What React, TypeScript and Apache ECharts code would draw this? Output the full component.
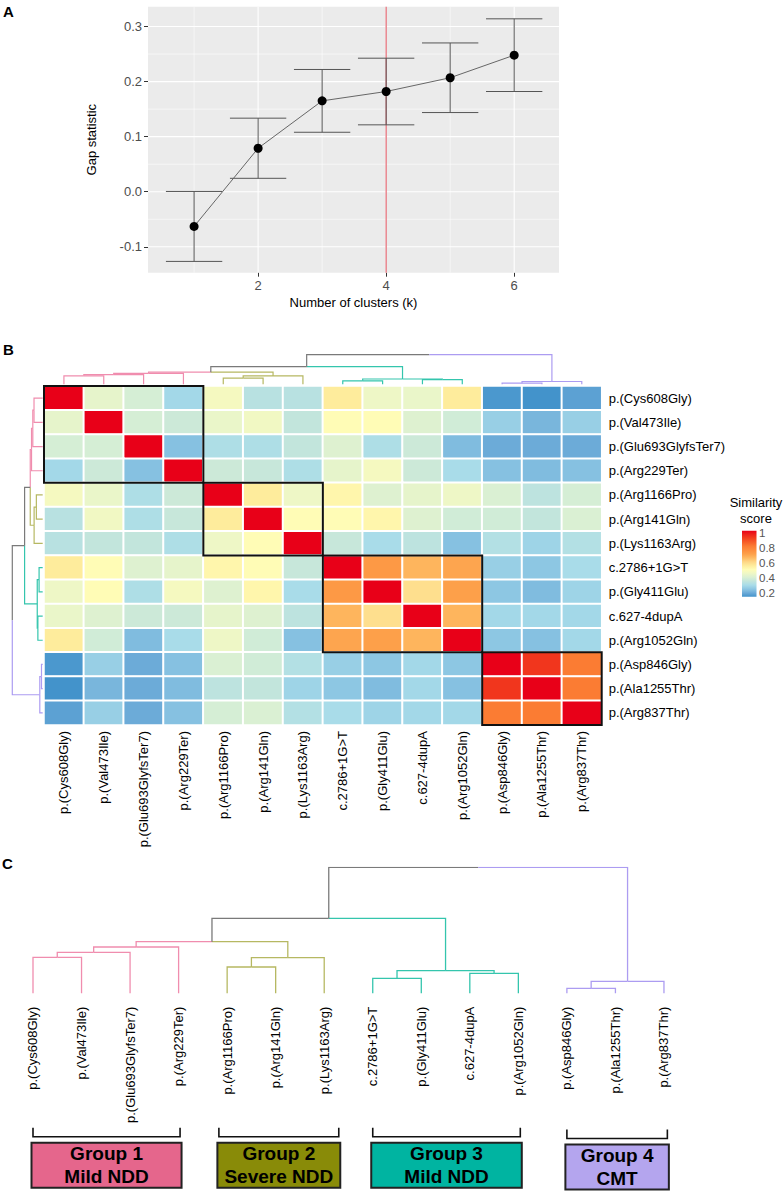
import React, { useEffect, useRef } from "react";
import * as echarts from "echarts";

// ---------- Panel A data ----------
const clusterK = [1, 2, 3, 4, 5, 6];
const gapValues = [-0.063, 0.079, 0.165, 0.182, 0.207, 0.248];
const gapSE = [0.0635, 0.0546, 0.057, 0.0605, 0.0632, 0.066];
const optimalK = 4;
const gapXTicks = [2, 4, 6];
const gapXMinor = [1, 3, 5];
const gapYTicks = [-0.1, 0, 0.1, 0.2, 0.3];
const gapYMinor = [-0.05, 0.05, 0.15, 0.25];

// ---------- Panel B / C data ----------
const variants = [
  "p.(Cys608Gly)", "p.(Val473Ile)", "p.(Glu693GlyfsTer7)", "p.(Arg229Ter)",
  "p.(Arg1166Pro)", "p.(Arg141Gln)", "p.(Lys1163Arg)",
  "c.2786+1G>T", "p.(Gly411Glu)", "c.627-4dupA", "p.(Arg1052Gln)",
  "p.(Asp846Gly)", "p.(Ala1255Thr)", "p.(Arg837Thr)",
];

const similarity = [
  [1, 0.43, 0.39, 0.29, 0.47, 0.33, 0.33, 0.55, 0.45, 0.44, 0.55, 0.16, 0.15, 0.18],
  [0.43, 1, 0.39, 0.37, 0.44, 0.46, 0.35, 0.50, 0.50, 0.41, 0.38, 0.27, 0.22, 0.27],
  [0.39, 0.39, 1, 0.24, 0.31, 0.31, 0.35, 0.41, 0.31, 0.37, 0.23, 0.20, 0.20, 0.20],
  [0.29, 0.37, 0.24, 1, 0.37, 0.36, 0.31, 0.43, 0.47, 0.37, 0.30, 0.24, 0.23, 0.24],
  [0.47, 0.44, 0.31, 0.37, 1, 0.55, 0.45, 0.52, 0.41, 0.43, 0.45, 0.40, 0.34, 0.39],
  [0.33, 0.46, 0.31, 0.36, 0.55, 1, 0.50, 0.50, 0.52, 0.41, 0.38, 0.38, 0.35, 0.40],
  [0.33, 0.35, 0.35, 0.31, 0.45, 0.50, 1, 0.36, 0.30, 0.34, 0.24, 0.32, 0.28, 0.32],
  [0.55, 0.50, 0.41, 0.43, 0.52, 0.50, 0.36, 1, 0.72, 0.66, 0.69, 0.27, 0.25, 0.30],
  [0.45, 0.50, 0.31, 0.47, 0.41, 0.52, 0.30, 0.72, 1, 0.58, 0.70, 0.25, 0.23, 0.28],
  [0.44, 0.41, 0.37, 0.37, 0.43, 0.41, 0.34, 0.66, 0.58, 1, 0.66, 0.29, 0.29, 0.29],
  [0.55, 0.38, 0.23, 0.30, 0.45, 0.38, 0.24, 0.69, 0.70, 0.66, 1, 0.25, 0.24, 0.29],
  [0.16, 0.27, 0.20, 0.24, 0.40, 0.38, 0.32, 0.27, 0.25, 0.29, 0.25, 1, 0.92, 0.80],
  [0.15, 0.22, 0.20, 0.23, 0.34, 0.35, 0.28, 0.25, 0.23, 0.29, 0.24, 0.92, 1, 0.80],
  [0.18, 0.27, 0.20, 0.24, 0.39, 0.40, 0.32, 0.30, 0.28, 0.29, 0.29, 0.80, 0.80, 1],
];

// hierarchical clustering (R hclust style: negative = leaf, positive = merge row)
const mergeLeft = [-1, 1, 2, -5, 4, 3, -8, -10, 7, 6, -12, 11, 10];
const mergeRight = [-2, -3, -4, -6, -7, 5, -9, -11, 8, 9, -13, -14, 12];
const mergeHeight = [36, 41, 46.3, 26.3, 35.6, 51.6, 15, 20, 22.6, 75, 5, 12, 126];
const leafGroup = [0, 0, 0, 0, 1, 1, 1, 2, 2, 2, 2, 3, 3, 3];

const groupTitles = ["Group 1", "Group 2", "Group 3", "Group 4"];
const groupSubtitles = ["Mild NDD", "Severe NDD", "Mild NDD", "CMT"];
const groupSpanStart = [0, 3.83, 7, 11];
const groupSpanEnd = [3.03, 6.3, 10.04, 13.07];

const legendTicks = [1, 0.8, 0.6, 0.4, 0.2];

// ---------- styling ----------
const FONT = "'Liberation Sans', Arial, Helvetica, sans-serif";
const branchColors = ["#F08DAE", "#B6B862", "#34C5AD", "#AC9CF1"];
const mixedColor = "#7A7A7A";
const boxFills = ["#E5668C", "#898B08", "#00B4A1", "#B4A5EE"];
const rampMin = 0.15;
const rampMax = 1.0;
const rampColors = [
  "#4393CB", "#6CABD8", "#8DC7E3", "#A9DCE9", "#C2E5DC", "#DAF0D3",
  "#EEF7C6", "#FFFCB6", "#FEEC9C", "#FED685", "#FEBA62", "#FDA04A",
  "#FD8E3E", "#FB7C33", "#F75F28", "#F3421E", "#EE241B", "#E80018",
];

type Seg = { coords: number[][]; group: number };

function buildDendrogram(): Seg[] {
  const nodes: { x: number; h: number; group: number }[] = [];
  const get = (ref: number) =>
    ref < 0 ? { x: -ref - 1, h: 0, group: leafGroup[-ref - 1] } : nodes[ref - 1];
  const segs: Seg[] = [];
  for (let m = 0; m < mergeHeight.length; m++) {
    const a = get(mergeLeft[m]);
    const b = get(mergeRight[m]);
    const h = mergeHeight[m];
    const x = (a.x + b.x) / 2;
    for (const c of [a, b]) {
      segs.push({ coords: [[x, h], [c.x, h], [c.x, c.h]], group: c.group });
    }
    nodes.push({ x, h, group: a.group === b.group ? a.group : -1 });
  }
  return segs;
}

function buildOption() {
  const segs = buildDendrogram();
  const colorOf = (g: number) => (g < 0 ? mixedColor : branchColors[g]);
  const n = variants.length;
  const maxH = Math.max(...mergeHeight);

  const heatData: number[][] = [];
  for (let r = 0; r < n; r++)
    for (let c = 0; c < n; c++) heatData.push([c, r, similarity[r][c]]);

  const groupBlocks = [0, 1, 2, 3].map((g) => {
    const idx = leafGroup.map((v, i) => (v === g ? i : -1)).filter((i) => i >= 0);
    const a = Math.min(...idx);
    const b = Math.max(...idx);
    return [a, a, b, b];
  });

  const gridItems: number[][] = [];
  gapXMinor.forEach((v) => gridItems.push([v, v, 0, 1]));
  gapYMinor.forEach((v) => gridItems.push([v, v, 1, 1]));
  gapXTicks.forEach((v) => gridItems.push([v, v, 0, 0]));
  gapYTicks.forEach((v) => gridItems.push([v, v, 1, 0]));
  gridItems.push([optimalK, optimalK, 0, 2]);

  // legend geometry
  const lgY = (v: number) => 593 - (v - 0.2) * 75.4;
  const barTop = lgY(rampMax) - 2;
  const barBottom = lgY(rampMin);
  const gradStops = rampColors.map((c, i) => ({
    offset: i / (rampColors.length - 1),
    color: c,
  }));

  const hidden = { show: false };

  return {
    animation: false,
    backgroundColor: "#fff",
    textStyle: { fontFamily: FONT },
    grid: [
      { left: 148, top: 6.7, width: 411, height: 266, show: true, backgroundColor: "#EBEBEB", borderWidth: 0 },
      { left: 44, top: 386, width: 557.7, height: 339 },
      { left: 44, top: 354.7, width: 557.7, height: 29.6 },
      { left: 12.3, top: 386, width: 30.4, height: 339 },
      { left: 8.73, top: 867.3, width: 679.5, height: 126 },
    ],
    xAxis: [
      {
        gridIndex: 0, type: "value", min: 0.28, max: 6.7, position: "bottom",
        name: "Number of clusters (k)", nameLocation: "middle", nameGap: 23,
        nameTextStyle: { fontSize: 13, color: "#000", fontFamily: FONT },
        axisLine: { show: false, onZero: false },
        axisTick: { show: true, length: 4, lineStyle: { color: "#333" }, customValues: gapXTicks },
        axisLabel: { customValues: gapXTicks, fontSize: 13, color: "#4D4D4D", margin: 6, fontFamily: FONT },
        splitLine: { show: false },
      },
      {
        gridIndex: 1, type: "category", data: variants, position: "bottom",
        axisLine: { show: false, onZero: false }, axisTick: { show: false }, splitLine: { show: false },
        axisLabel: { rotate: 90, interval: 0, margin: 6, fontSize: 13, color: "#000", fontFamily: FONT },
      },
      { gridIndex: 2, type: "value", min: -0.5, max: n - 0.5, ...hidden },
      { gridIndex: 3, type: "value", min: 0, max: maxH, inverse: true, ...hidden },
      { gridIndex: 4, type: "value", min: -0.5, max: n - 0.5, ...hidden },
      {
        gridIndex: 4, type: "category", data: variants, position: "bottom",
        axisLine: { show: false, onZero: false }, axisTick: { show: false }, splitLine: { show: false },
        axisLabel: { rotate: 90, interval: 0, margin: 13.4, fontSize: 13, color: "#000", fontFamily: FONT },
      },
    ],
    yAxis: [
      {
        gridIndex: 0, type: "value", min: -0.147, max: 0.336, position: "left",
        name: "Gap statistic", nameLocation: "middle", nameGap: 50, nameRotate: 90,
        nameTextStyle: { fontSize: 13, color: "#000", fontFamily: FONT },
        axisLine: { show: false, onZero: false },
        axisTick: { show: true, length: 4, lineStyle: { color: "#333" }, customValues: gapYTicks },
        axisLabel: {
          customValues: gapYTicks, fontSize: 13, color: "#4D4D4D", margin: 6, fontFamily: FONT,
          formatter: (v: number) => v.toFixed(1),
        },
        splitLine: { show: false },
      },
      {
        gridIndex: 1, type: "category", data: variants, inverse: true, position: "right",
        axisLine: { show: false, onZero: false }, axisTick: { show: false }, splitLine: { show: false },
        axisLabel: { interval: 0, margin: 7, fontSize: 13, color: "#000", fontFamily: FONT },
      },
      { gridIndex: 2, type: "value", min: 0, max: maxH, ...hidden },
      { gridIndex: 3, type: "value", min: -0.5, max: n - 0.5, inverse: true, ...hidden },
      { gridIndex: 4, type: "value", min: 0, max: maxH, ...hidden },
    ],
    visualMap: {
      type: "continuous", show: false, min: rampMin, max: rampMax,
      seriesIndex: 3, dimension: 2, inRange: { color: rampColors },
    },
    series: [
      // 0 gridlines + reference line for panel A
      {
        type: "custom", xAxisIndex: 0, yAxisIndex: 0, z: 1, silent: true,
        data: gridItems,
        renderItem: (params: any, api: any) => {
          const cs = params.coordSys;
          const v = api.value(0);
          const orient = api.value(2);
          const kind = api.value(3);
          const stroke = kind === 2 ? "#E35D69" : "#FFFFFF";
          const lw = kind === 0 ? 1.1 : kind === 1 ? 0.55 : 1.1;
          if (orient === 0) {
            const p = api.coord([v, 0])[0];
            return { type: "line", shape: { x1: p, y1: cs.y, x2: p, y2: cs.y + cs.height }, style: { stroke, lineWidth: lw } };
          }
          const p = api.coord([1, v])[1];
          return { type: "line", shape: { x1: cs.x, y1: p, x2: cs.x + cs.width, y2: p }, style: { stroke, lineWidth: lw } };
        },
      },
      // 1 error bars
      {
        type: "custom", xAxisIndex: 0, yAxisIndex: 0, z: 3, silent: true,
        data: clusterK.map((k, i) => [k, gapValues[i] - gapSE[i], gapValues[i] + gapSE[i]]),
        renderItem: (params: any, api: any) => {
          const k = api.value(0);
          const lo = api.coord([k, api.value(1)]);
          const hi = api.coord([k, api.value(2)]);
          const hw = api.size([0.88, 0])[0] / 2;
          const st = { stroke: "#555555", lineWidth: 1 };
          return {
            type: "group",
            children: [
              { type: "line", shape: { x1: lo[0], y1: lo[1], x2: hi[0], y2: hi[1] }, style: st },
              { type: "line", shape: { x1: lo[0] - hw, y1: lo[1], x2: lo[0] + hw, y2: lo[1] }, style: st },
              { type: "line", shape: { x1: hi[0] - hw, y1: hi[1], x2: hi[0] + hw, y2: hi[1] }, style: st },
            ],
          };
        },
      },
      // 2 gap line + points
      {
        type: "line", xAxisIndex: 0, yAxisIndex: 0, z: 5, silent: true,
        data: clusterK.map((k, i) => [k, gapValues[i]]),
        symbol: "circle", symbolSize: 9,
        itemStyle: { color: "#000" },
        lineStyle: { color: "#666", width: 1 },
      },
      // 3 heatmap
      {
        type: "heatmap", xAxisIndex: 1, yAxisIndex: 1, data: heatData, silent: true,
        itemStyle: { borderColor: "#FFFFFF", borderWidth: 2 },
        emphasis: { disabled: true },
      },
      // 4 cluster blocks
      {
        type: "custom", xAxisIndex: 1, yAxisIndex: 1, z: 10, silent: true, clip: false,
        data: groupBlocks,
        renderItem: (params: any, api: any) => {
          const a = api.coord([api.value(0), api.value(1)]);
          const b = api.coord([api.value(2), api.value(3)]);
          const s = api.size([1, 1]);
          const x0 = Math.min(a[0], b[0]) - s[0] / 2;
          const y0 = Math.min(a[1], b[1]) - s[1] / 2;
          return {
            type: "rect",
            shape: { x: x0, y: y0, width: Math.abs(b[0] - a[0]) + s[0], height: Math.abs(b[1] - a[1]) + s[1] },
            style: { fill: "none", stroke: "#111", lineWidth: 2 },
          };
        },
      },
      // 5 top dendrogram
      {
        type: "lines", coordinateSystem: "cartesian2d", xAxisIndex: 2, yAxisIndex: 2,
        polyline: true, silent: true,
        lineStyle: { width: 1.2, opacity: 1 },
        data: segs.map((s) => ({ coords: s.coords, lineStyle: { color: colorOf(s.group) } })),
      },
      // 6 left dendrogram
      {
        type: "lines", coordinateSystem: "cartesian2d", xAxisIndex: 3, yAxisIndex: 3,
        polyline: true, silent: true,
        lineStyle: { width: 1.2, opacity: 1 },
        data: segs.map((s) => ({
          coords: s.coords.map((p) => [p[1], p[0]]),
          lineStyle: { color: colorOf(s.group) },
        })),
      },
      // 7 panel C dendrogram
      {
        type: "lines", coordinateSystem: "cartesian2d", xAxisIndex: 4, yAxisIndex: 4,
        polyline: true, silent: true,
        lineStyle: { width: 1.3, opacity: 1 },
        data: segs.map((s) => ({ coords: s.coords, lineStyle: { color: colorOf(s.group) } })),
      },
      // 8 group brackets and boxes
      {
        type: "custom", xAxisIndex: 4, yAxisIndex: 4, clip: false, silent: true, z: 5,
        data: groupTitles.map((_, g) => [groupSpanStart[g], 0, groupSpanEnd[g], g]),
        renderItem: (params: any, api: any) => {
          const g = api.value(3);
          const p0 = api.coord([api.value(0), 0]);
          const p1 = api.coord([api.value(2), 0]);
          const base = p0[1] + (g === 3 ? 1.8 : 0);
          const bt = base + 134.4;
          const bb = base + 143.4;
          const boxTop = base + 149.4;
          const boxH = 45;
          const pad = 1.5;
          return {
            type: "group",
            children: [
              {
                type: "polyline",
                shape: { points: [[p0[0], bt], [p0[0], bb], [p1[0], bb], [p1[0], bt]] },
                style: { stroke: "#111", lineWidth: 1.6, fill: "none" },
              },
              {
                type: "rect",
                shape: { x: p0[0] - pad, y: boxTop, width: p1[0] - p0[0] + 2 * pad, height: boxH },
                style: { fill: boxFills[g], stroke: "#222", lineWidth: 2 },
              },
              {
                type: "text",
                x: (p0[0] + p1[0]) / 2,
                y: boxTop + boxH / 2,
                style: {
                  text: groupTitles[g] + "\n" + groupSubtitles[g],
                  fontFamily: FONT, fontSize: 19, fontWeight: "bold", fill: "#000",
                  align: "center", verticalAlign: "middle", lineHeight: 23,
                },
              },
            ],
          };
        },
      },
    ],
    graphic: [
      { type: "text", left: 3, top: 4, style: { text: "A", fontFamily: FONT, fontSize: 15, fontWeight: "bold", fill: "#000" } },
      { type: "text", left: 3, top: 342, style: { text: "B", fontFamily: FONT, fontSize: 15, fontWeight: "bold", fill: "#000" } },
      { type: "text", left: 2, top: 856, style: { text: "C", fontFamily: FONT, fontSize: 15, fontWeight: "bold", fill: "#000" } },
      {
        type: "text", x: 756, y: 510,
        style: {
          text: "Similarity\nscore", fontFamily: FONT, fontSize: 13, fill: "#000",
          align: "center", verticalAlign: "middle", lineHeight: 16,
        },
      },
      {
        type: "rect",
        shape: { x: 742, y: barTop, width: 14.5, height: barBottom - barTop },
        style: {
          fill: { type: "linear", x: 0, y: 1, x2: 0, y2: 0, colorStops: gradStops },
        },
      },
      ...legendTicks.map((v) => ({
        type: "text", x: 759, y: lgY(v),
        style: {
          text: String(v), fontFamily: FONT, fontSize: 11.5, fill: "#555",
          align: "left", verticalAlign: "middle",
        },
      })),
    ],
  };
}

export default function App() {
  const ref = useRef<HTMLDivElement>(null);
  useEffect(() => {
    if (!ref.current) return;
    const chart = echarts.init(ref.current, null, { renderer: "svg" });
    chart.setOption(buildOption() as any);
    return () => chart.dispose();
  }, []);
  return (
    <div
      ref={ref}
      style={{ position: "fixed", left: 0, top: 0, width: 783, height: 1191, background: "#fff" }}
    />
  );
}
